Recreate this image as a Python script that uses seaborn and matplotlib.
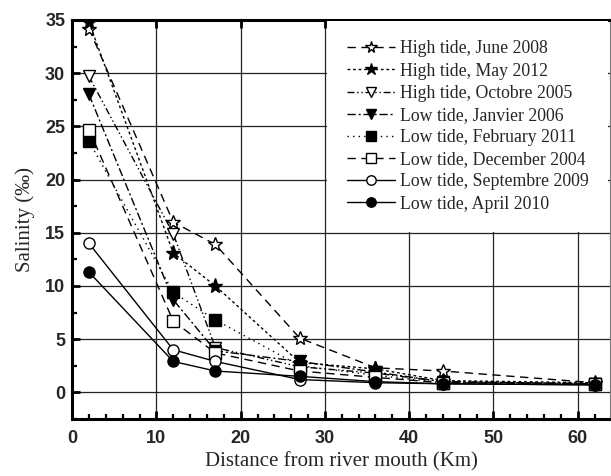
import matplotlib
matplotlib.use("Agg")
import matplotlib.pyplot as plt
from matplotlib.ticker import MultipleLocator
import seaborn as sns
import pandas as pd

# ---- data ----
distance_km = [2, 12, 17, 27, 36, 44, 62]

series_labels = [
    "High tide, June 2008",
    "High tide, May 2012",
    "High tide, Octobre 2005",
    "Low tide, Janvier 2006",
    "Low tide, February 2011",
    "Low tide, December 2004",
    "Low tide, Septembre 2009",
    "Low tide, April 2010",
]

june_2008 = [34.2, 16.0, 13.9, 5.1, 2.3, 2.0, 0.9]
may_2012 = [34.8, 13.1, 10.0, 2.8, 2.2, 1.1, 0.9]
octobre_2005 = [29.7, 14.9, 4.2, 2.4, 1.8, 1.0, 0.8]
janvier_2006 = [28.0, 8.7, 3.9, 2.9, 1.9, 1.0, 0.8]
february_2011 = [23.6, 9.4, 6.8, 2.5, 1.6, 0.9, 0.8]
december_2004 = [24.7, 6.7, 3.7, 2.0, 1.4, 0.9, 0.8]
septembre_2009 = [14.0, 4.0, 2.9, 1.2, 0.9, 0.8, 0.7]
april_2010 = [11.3, 2.9, 2.0, 1.5, 1.0, 0.8, 0.7]

all_values = [june_2008, may_2012, octobre_2005, janvier_2006,
              february_2011, december_2004, septembre_2009, april_2010]

styles = [
    dict(linestyle=(0, (6, 4)), marker="*", mfc="white", ms=10),
    dict(linestyle=(0, (2, 2)), marker="*", mfc="black", ms=11),
    dict(linestyle=(0, (5, 2, 1, 2, 1, 2)), marker="v", mfc="white", ms=9),
    dict(linestyle=(0, (6, 2, 1.5, 2)), marker="v", mfc="black", ms=9),
    dict(linestyle=(0, (1, 3)), marker="s", mfc="black", ms=8),
    dict(linestyle=(0, (6, 4)), marker="s", mfc="white", ms=8),
    dict(linestyle="-", marker="o", mfc="white", ms=8),
    dict(linestyle="-", marker="o", mfc="black", ms=8),
]

rows = []
for lab, vals in zip(series_labels, all_values):
    for d, v in zip(distance_km, vals):
        rows.append({"series": lab, "distance": d, "salinity": v})
df = pd.DataFrame(rows)

sns.set_style("white")
fig = plt.figure(figsize=(6.11, 4.76), dpi=100)
ax = fig.add_axes([0.118, 0.12, 0.880, 0.838])

for lab, st in zip(series_labels, styles):
    sub = df[df["series"] == lab]
    sns.lineplot(data=sub, x="distance", y="salinity", ax=ax, sort=False,
                 estimator=None, color="black", lw=1.0,
                 linestyle=st["linestyle"], marker=st["marker"],
                 markerfacecolor=st["mfc"], markeredgecolor="black",
                 markeredgewidth=1.0, markersize=st["ms"], label=lab,
                 zorder=3)

ax.set_xlim(0, 63.8)
ax.set_ylim(-2.5, 35)
ax.xaxis.set_major_locator(MultipleLocator(10))
ax.xaxis.set_minor_locator(MultipleLocator(2))
ax.yaxis.set_major_locator(MultipleLocator(5))
ax.yaxis.set_minor_locator(MultipleLocator(2.5))
ax.set_yticks([0, 5, 10, 15, 20, 25, 30, 35])
ax.set_xticks([0, 10, 20, 30, 40, 50, 60])

ax.grid(True, which="major", color="#222222", lw=0.9, zorder=0)
ax.set_axisbelow(True)

for s in ["left", "bottom", "top"]:
    ax.spines[s].set_linewidth(2.2)
    ax.spines[s].set_color("black")
ax.spines["right"].set_linewidth(0.8)
ax.spines["right"].set_color("#777777")

ax.tick_params(which="major", direction="in", length=6, width=2, top=True,
               right=False, bottom=True, left=True, color="black")
ax.tick_params(which="minor", direction="in", length=3.5, width=1.6, top=False,
               right=False, bottom=True, left=True, color="black")

for t in ax.get_xticklabels() + ax.get_yticklabels():
    t.set_fontfamily("Liberation Sans")
    t.set_fontweight("bold")
    t.set_fontsize(13)
ax.tick_params(axis="x", pad=8)
ax.tick_params(axis="y", pad=5)

ax.set_xlabel("Distance from river mouth (Km)", family="Liberation Serif",
              fontsize=15, labelpad=4)
ax.set_ylabel("Salinity (‰)", family="Liberation Serif", fontsize=15,
              labelpad=7)

leg = ax.legend(loc="upper right", bbox_to_anchor=(0.999, 1.0),
                prop={"family": "Liberation Serif", "size": 12.8},
                frameon=True, fancybox=False, edgecolor="none",
                facecolor="white", framealpha=1.0, handlelength=2.7,
                handletextpad=0.3, labelspacing=0.29, borderpad=1.1,
                borderaxespad=0.05, markerscale=0.85)
leg.set_zorder(5)

fig.savefig("out.png", dpi=100)
